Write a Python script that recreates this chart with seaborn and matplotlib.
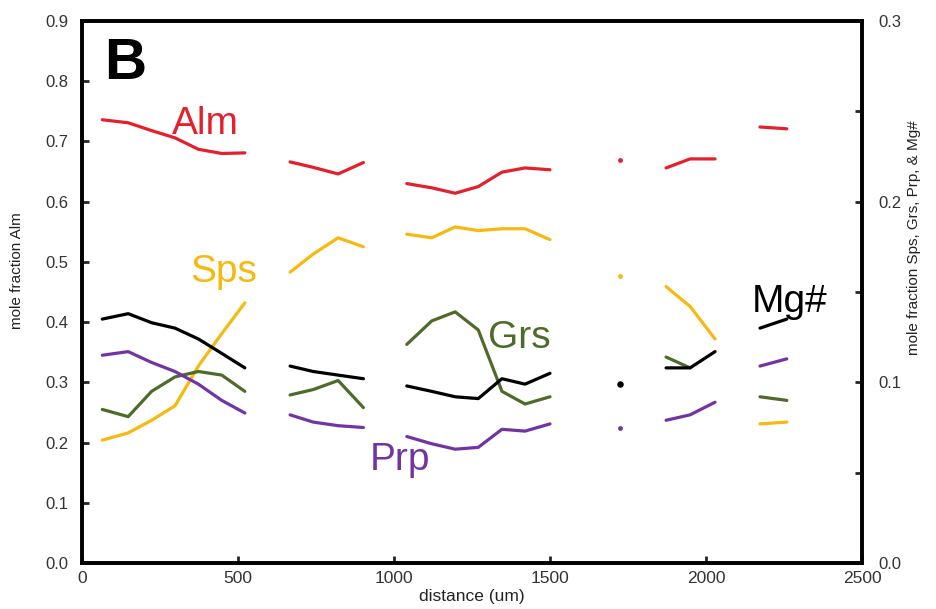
import numpy as np
import pandas as pd
import matplotlib
matplotlib.use("Agg")
import matplotlib.pyplot as plt
from matplotlib.ticker import MultipleLocator, FormatStrFormatter
import seaborn as sns

sns.set_style("white")
plt.rcParams['font.family'] = ['Liberation Sans', 'DejaVu Sans']

nan = np.nan

# distance along the traverse, nan marks a gap between segments
distance = [65, 148, 223, 298, 373, 448, 522, nan,
            667, 741, 821, 902, nan,
            1041, 1121, 1196, 1270, 1346, 1420, 1500, nan,
            1724, nan,
            1872, 1949, 2029, nan,
            2173, 2259]

alm = [0.736, 0.731, 0.718, 0.706, 0.687, 0.680, 0.681, nan,
       0.666, 0.657, 0.646, 0.665, nan,
       0.630, 0.623, 0.614, 0.625, 0.649, 0.656, 0.653, nan,
       0.669, nan,
       0.656, 0.671, 0.671, nan,
       0.724, 0.721]

sps = [0.068, 0.072, 0.079, 0.087, 0.109, 0.127, 0.144, nan,
       0.161, 0.171, 0.180, 0.175, nan,
       0.182, 0.180, 0.186, 0.184, 0.185, 0.185, 0.179, nan,
       0.159, nan,
       0.153, 0.142, 0.124, nan,
       0.077, 0.078]

grs = [0.085, 0.081, 0.095, 0.103, 0.106, 0.104, 0.095, nan,
       0.093, 0.096, 0.101, 0.086, nan,
       0.121, 0.134, 0.139, 0.129, 0.095, 0.088, 0.092, nan,
       nan, nan,
       0.114, 0.108, nan, nan,
       0.092, 0.090]

prp = [0.115, 0.117, 0.111, 0.106, 0.099, 0.090, 0.083, nan,
       0.082, 0.078, 0.076, 0.075, nan,
       0.070, 0.066, 0.063, 0.064, 0.074, 0.073, 0.077, nan,
       0.075, nan,
       0.079, 0.082, 0.089, nan,
       0.109, 0.113]

mgno = [0.135, 0.138, 0.133, 0.130, 0.124, 0.116, 0.108, nan,
        0.109, 0.106, 0.104, 0.102, nan,
        0.098, 0.095, 0.092, 0.091, 0.102, 0.099, 0.105, nan,
        0.099, nan,
        0.108, 0.108, 0.117, nan,
        0.130, 0.135]

colors = {'Alm': '#e3202b', 'Sps': '#f6b90f', 'Grs': '#4e6b2b',
          'Prp': '#7234a3', 'Mg#': '#000000'}


def segments(vals):
    x = np.array(distance, dtype=float)
    y = np.array(vals, dtype=float)
    seg = np.cumsum(np.isnan(x))
    df = pd.DataFrame({'x': x, 'y': y, 'seg': seg}).dropna()
    counts = df.groupby('seg')['x'].transform('size')
    return df[counts > 1], df[counts == 1]


def draw(ax, vals, color, dot=12):
    lines, dots = segments(vals)
    sns.lineplot(data=lines, x='x', y='y', units='seg', estimator=None,
                 color=color, lw=2.3, ax=ax, legend=False)
    if len(dots):
        sns.scatterplot(data=dots, x='x', y='y', color=color, s=dot,
                        marker='o', linewidth=0, ax=ax, legend=False)


fig = plt.figure(figsize=(9.36, 6.09), dpi=100)
ax = fig.add_axes([82/936, 1-563/609, 780/936, 542/609])
ax2 = ax.twinx()

draw(ax, alm, colors['Alm'])
draw(ax2, sps, colors['Sps'])
draw(ax2, grs, colors['Grs'])
draw(ax2, prp, colors['Prp'])
draw(ax2, mgno, colors['Mg#'], dot=22)

ax.set_xlim(0, 2500)
ax.set_ylim(0, 0.9)
ax2.set_ylim(0, 0.3)

ax.xaxis.set_major_locator(MultipleLocator(500))
ax.yaxis.set_major_locator(MultipleLocator(0.1))
ax.yaxis.set_major_formatter(FormatStrFormatter('%.1f'))
ax2.yaxis.set_major_locator(MultipleLocator(0.1))
ax2.yaxis.set_minor_locator(MultipleLocator(0.05))
ax2.yaxis.set_major_formatter(FormatStrFormatter('%.1f'))

for a in (ax, ax2):
    for sp in a.spines.values():
        sp.set_linewidth(2.6)
        sp.set_color('black')

ax.tick_params(axis='y', direction='in', length=5, width=2, pad=10,
               labelsize=12, labelcolor='#333333', left=True)
ax.tick_params(axis='x', direction='in', length=5, width=2, pad=6,
               labelsize=12.5, labelcolor='#333333', bottom=True)
ax2.tick_params(axis='y', which='both', direction='in', length=5, width=2,
                pad=12, labelsize=12, labelcolor='#333333', right=True)

ax.set_xlabel('distance (um)', fontsize=12.5, color='#222222', labelpad=2)
ax.set_ylabel('mole fraction Alm', fontsize=11, color='#222222')
ax.yaxis.set_label_coords(-0.074, 0.54)
ax2.set_ylabel('mole fraction Sps, Grs, Prp, & Mg#', fontsize=11,
               color='#222222')
ax2.yaxis.set_label_coords(1.058, 0.6)

# panel letter and series labels
ax.text(70, 0.804, 'B', fontsize=42, fontweight='bold', color='black')
ax.text(288, 0.713, 'Alm', fontsize=28, color=colors['Alm'])
ax.text(346, 0.466, 'Sps', fontsize=28, color=colors['Sps'])
ax.text(1301, 0.357, 'Grs', fontsize=28, color=colors['Grs'])
ax.text(923, 0.154, 'Prp', fontsize=28, color=colors['Prp'])
ax.text(2147, 0.416, 'Mg#', fontsize=28, color=colors['Mg#'])

fig.savefig('out.png', dpi=100)
